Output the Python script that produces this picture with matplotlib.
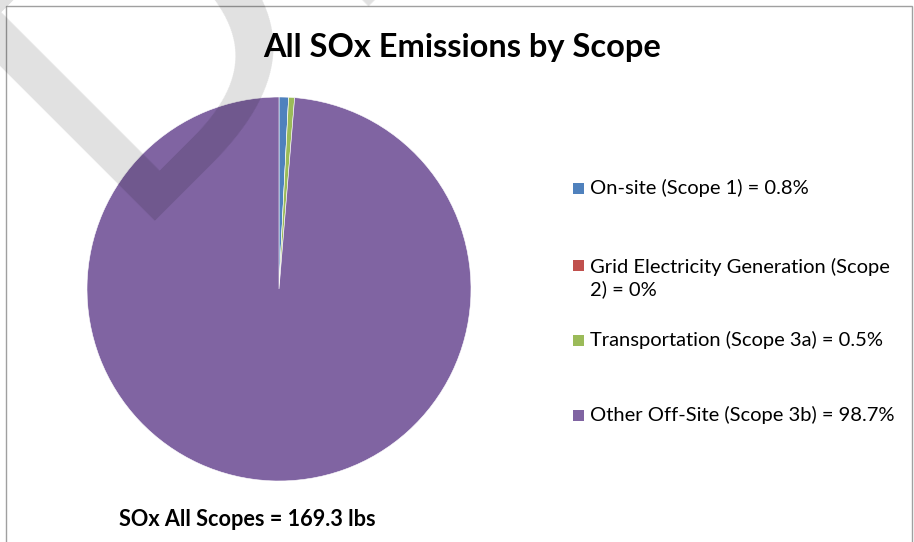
import matplotlib.pyplot as plt
from matplotlib.patches import Rectangle

# Data
legend_text = ["On-site (Scope 1) = 0.8%",
               "Grid Electricity Generation (Scope\n2) = 0%",
               "Transportation (Scope 3a) = 0.5%",
               "Other Off-Site (Scope 3b) = 98.7%"]
shares = [0.8, 0.0, 0.5, 98.7]
colors = ["#4F81BD", "#C0504D", "#9BBB59", "#8064A2"]
total_text = "SOx All Scopes = 169.3 lbs"
title = "All SOx Emissions by Scope"

plt.rcParams['font.family'] = ['Lato', 'DejaVu Sans']

W, H = 914, 542
fig = plt.figure(figsize=(W / 100, H / 100), dpi=100)

# pie axes: centre (279, 289) px, radius 192 px
ax = fig.add_axes([87 / W, (H - 481) / H, 384 / W, 384 / H])
ax.pie(shares, colors=colors, startangle=90, counterclock=False, radius=1,
       wedgeprops=dict(edgecolor="white", linewidth=0.4))
ax.set_xlim(-1, 1)
ax.set_ylim(-1, 1)
ax.set_aspect("auto")
ax.axis("off")

fig.text(462 / W, 1 - 48 / H, title, ha="center", va="center",
         fontsize=23.4, fontweight="bold")
fig.text(247 / W, 1 - 520 / H, total_text, ha="center", va="center",
         fontsize=15.6, fontweight="bold")

# legend, drawn by hand (text centre y, marker centre y)
text_y = [188, 278, 340, 415]
mark_y = [188, 265, 340, 415]
for ty, my, txt, c in zip(text_y, mark_y, legend_text, colors):
    fig.add_artist(Rectangle((573 / W, 1 - (my + 5.5) / H), 11 / W, 11 / H,
                             transform=fig.transFigure, facecolor=c, edgecolor="none"))
    fig.text(590 / W, 1 - ty / H, txt, ha="left", va="center",
             fontsize=14.5, linespacing=1.3)

# outer frame
fig.add_artist(Rectangle((6 / W, -0.05), (912 - 6) / W, 1.05 - 6 / H,
                         transform=fig.transFigure, facecolor="none",
                         edgecolor="#A0A0A0", linewidth=1.0))

# DRAFT watermark
fig.text(116 / W, 1 - 221 / H, "DRAFT", rotation=45, rotation_mode="anchor",
         ha="left", va="baseline", fontsize=284, color="black", alpha=0.12,
         family="DejaVu Sans")

fig.savefig("out.png", dpi=100)
